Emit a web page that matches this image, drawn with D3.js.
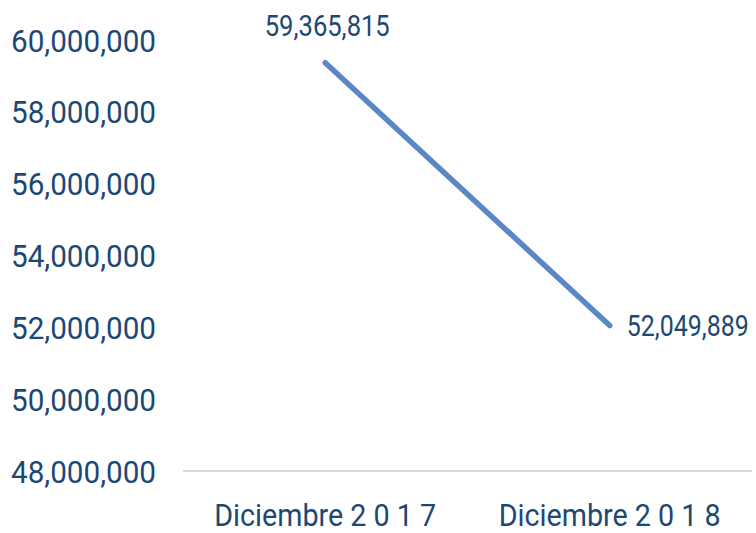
<!DOCTYPE html>
<html>
<head>
<meta charset="utf-8">
<script src="https://d3js.org/d3.v7.min.js"></script>
<style>
  body { margin: 0; background: #fff; }
  svg { display: block; }
  text { font-family: "Liberation Sans Narrow", "Roboto", sans-serif; fill: #1d4873; }
</style>
</head>
<body>
<svg width="756" height="533"></svg>
<script>
const categories = ["Diciembre 2 0 1 7", "Diciembre 2 0 1 8"];
const values = [59365815, 52049889];
const yTicks = [48000000, 50000000, 52000000, 54000000, 56000000, 58000000, 60000000];

const svg = d3.select("svg");
const fmt = d3.format(",");

const x = d3.scalePoint().domain(categories).range([183, 752]).padding(0.5);
const y = d3.scaleLinear().domain([48000000, 60000000]).range([471, 40]);

// y labels, no axis line (narrow look via textLength)
svg.append("g").selectAll("text")
  .data(yTicks).join("text")
  .attr("x", 156)
  .attr("y", d => y(d))
  .attr("dy", "0.36em")
  .attr("text-anchor", "end")
  .attr("textLength", 145)
  .attr("lengthAdjust", "spacingAndGlyphs")
  .style("font-size", "32px")
  .text(d => fmt(d));

// baseline
svg.append("line")
  .attr("x1", 183).attr("x2", 752)
  .attr("y1", y(48000000)).attr("y2", y(48000000))
  .attr("stroke", "#d9d9d9").attr("stroke-width", 2);

// x labels
svg.append("g").selectAll("text")
  .data(categories).join("text")
  .attr("x", d => x(d))
  .attr("y", 526)
  .attr("text-anchor", "middle")
  .attr("textLength", 222)
  .attr("lengthAdjust", "spacingAndGlyphs")
  .style("font-size", "31px")
  .text(d => d);

const pts = categories.map((c, i) => ({ c, v: values[i] }));

svg.append("path")
  .datum(pts)
  .attr("fill", "none")
  .attr("stroke", "#5a87c5")
  .attr("stroke-width", 5.5)
  .attr("stroke-linecap", "round")
  .attr("d", d3.line().x(d => x(d.c)).y(d => y(d.v)));

// data labels
svg.append("text")
  .attr("x", x(categories[0]) + 2)
  .attr("y", y(values[0]) - 27)
  .attr("text-anchor", "middle")
  .attr("textLength", 125)
  .attr("lengthAdjust", "spacingAndGlyphs")
  .style("font-size", "29px")
  .text(fmt(values[0]));

svg.append("text")
  .attr("x", x(categories[1]) + 17)
  .attr("y", y(values[1]))
  .attr("dy", "0.36em")
  .attr("text-anchor", "start")
  .attr("textLength", 122)
  .attr("lengthAdjust", "spacingAndGlyphs")
  .style("font-size", "29px")
  .text(fmt(values[1]));
</script>
</body>
</html>
